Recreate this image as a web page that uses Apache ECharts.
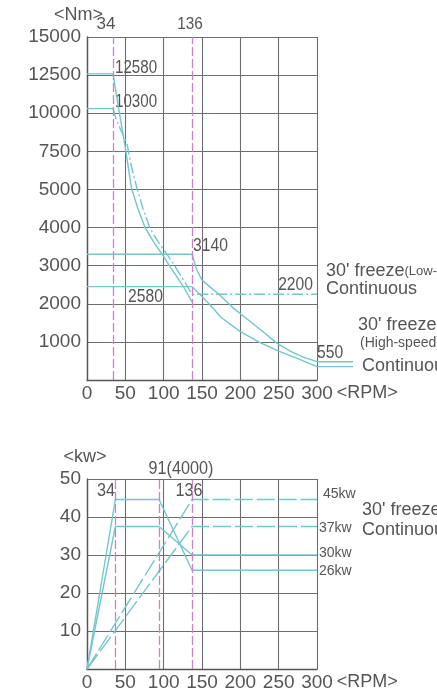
<!DOCTYPE html>
<html><head><meta charset="utf-8">
<script src="https://cdn.jsdelivr.net/npm/echarts@6/dist/echarts.min.js"></script>
<style>html,body{margin:0;padding:0;background:#fff}#c{width:437px;height:693px}</style>
</head><body><div id="c"></div>
<script>
// ---- data ----
const rpmTicks = [0, 50, 100, 150, 200, 250, 300];
const torqueTicks = [0, 1000, 2000, 3000, 4000, 5000, 7500, 10000, 12500, 15000];
const powerTicks = [0, 10, 20, 30, 40, 50];

// torque chart (rpm, Nm)
const lowSpeed30 = [[0,12580],[34,12580],[38,11300],[42,10100],[46,8900],[50,7750],[54,6400],[58,5100],[66,4520],[76,3990],[87,3620],[98,3300],[108,2980],[117,2720],[126,2440],[137,2050]];
const lowSpeedContFlat = [[0,10300],[34,10300]];
const lowSpeedCont = [[34,10300],[38,9600],[44,8900],[52,8050],[58,6500],[65,5100],[73,4500],[82,3990],[93,3620],[104,3307],[115,2974],[129,2520],[137,2250],[300,2250]];
const highSpeed30 = [[0,3300],[137,3300],[143,2900],[150,2620],[160,2450],[172,2250],[190,1900],[210,1580],[230,1260],[248,960],[265,760],[282,600],[300,480]];
const highSpeedCont = [[0,2450],[137,2450],[148,2230],[160,1980],[175,1640],[200,1270],[225,990],[250,760],[275,560],[300,350]];
const leaderEndRpm = 347;
const torqueMarks = [34, 137];

// power chart (rpm, kW)
const lowPower30 = [[0,0],[37,44.6],[94,44.6],[137,26],[300,26]];
const lowPowerCont = [[0,0],[37,37.5],[94,37.5],[137,30],[300,30]];
const highPower30 = [[0,0],[137,44.6],[300,44.6]];
const highPowerCont = [[0,0],[137,37.5],[300,37.5]];
const powerMarks = [37, 94, 137];

// ---- helpers ----
function tq(v){
  for (let i = 1; i < torqueTicks.length; i++) {
    if (v <= torqueTicks[i]) return (i-1) + (v - torqueTicks[i-1]) / (torqueTicks[i] - torqueTicks[i-1]);
  }
  return torqueTicks.length - 1;
}
const T = arr => arr.map(p => [p[0], tq(p[1])]);

const CYAN = '#74c6cb';
const MAG = '#c984c9';
const GRID = '#6e6e6e';
const TXT = '#555';
const FONT = 'Liberation Sans, Arial, sans-serif';

function xAx(gi){
  return {type:'value', gridIndex:gi, min:rpmTicks[0], max:rpmTicks[rpmTicks.length-1], interval:rpmTicks[1]-rpmTicks[0],
    axisLine:{show:true, lineStyle:{color:'#555', width:1.4}}, axisTick:{show:false},
    splitLine:{show:true, lineStyle:{color:GRID, width:1.1}},
    axisLabel:{color:TXT, fontSize:19, fontFamily:FONT, margin:4},
    name:'<RPM>', nameLocation:'end', nameGap:17,
    nameTextStyle:{color:TXT, fontSize:18, fontFamily:FONT, verticalAlign:'top', padding:[4,0,0,0]}};
}
function line(data, gi, dash){
  return {type:'line', xAxisIndex:gi, yAxisIndex:gi, data:data, symbol:'none',
    lineStyle:{color:CYAN, width:1.4, type: dash || 'solid'}, animation:false, silent:true};
}
function marks(vals){
  return {symbol:['none','none'], silent:true, animation:false, label:{show:false},
    lineStyle:{color:MAG, width:1.3, type:[9,3]}, data: vals.map(v => ({xAxis:v}))};
}

const s1 = line(T(lowSpeed30), 0);
s1.markLine = marks(torqueMarks);
const s5 = line(lowPower30, 1);
s5.markLine = marks(powerMarks);

function txt(x, y, text, size, align, sx){
  return {type:'text', x:x, y:y, silent:true, scaleX: sx || 1,
    style:{text:text, fill:TXT, font:(size||16)+'px '+FONT, align:align||'left', verticalAlign:'middle'}};
}
function rich(x, y, a, b, sa, sb){
  return {type:'text', x:x, y:y, silent:true,
    style:{text:'{a|'+a+'}{b|'+b+'}', fill:TXT, align:'left', verticalAlign:'middle',
      rich:{a:{fontSize:sa, fontFamily:FONT, fill:TXT}, b:{fontSize:sb, fontFamily:FONT, fill:TXT}}}};
}

const chart = echarts.init(document.getElementById('c'), null, {renderer:'canvas'});
chart.setOption({
  backgroundColor:'#fff',
  animation:false,
  grid:[{left:87, top:37, width:230, height:343}, {left:87, top:479, width:230, height:190}],
  xAxis:[xAx(0), xAx(1)],
  yAxis:[
    {type:'value', gridIndex:0, min:0, max:torqueTicks.length-1, interval:1,
      axisLine:{show:true, lineStyle:{color:'#555', width:1.4}}, axisTick:{show:false},
      splitLine:{show:true, lineStyle:{color:GRID, width:1.1}},
      axisLabel:{color:TXT, fontSize:19, fontFamily:FONT, margin:6,
        formatter: v => v === 0 ? '' : String(torqueTicks[Math.round(v)])}},
    {type:'value', gridIndex:1, min:powerTicks[0], max:powerTicks[powerTicks.length-1], interval:powerTicks[1]-powerTicks[0],
      axisLine:{show:true, lineStyle:{color:'#555', width:1.4}}, axisTick:{show:false},
      splitLine:{show:true, lineStyle:{color:GRID, width:1.1}},
      axisLabel:{color:TXT, fontSize:19, fontFamily:FONT, margin:6, formatter: v => v === 0 ? '' : String(v)}}
  ],
  series:[
    s1,
    line(T(lowSpeedContFlat), 0),
    line(T(lowSpeedCont), 0, [11,3,2,3]),
    line(T(highSpeed30), 0),
    line(T(highSpeedCont), 0),
    s5,
    line(lowPowerCont, 1),
    line(highPower30, 1, [18,4]),
    line(highPowerCont, 1, [18,4])
  ]
});

// leader lines from the curve ends at 300 rpm out to the right-hand captions
const leaders = [highSpeed30[highSpeed30.length-1], highSpeedCont[highSpeedCont.length-1]].map(p => {
  const a = chart.convertToPixel({gridIndex:0}, [p[0], tq(p[1])]);
  const b = chart.convertToPixel({gridIndex:0}, [leaderEndRpm, tq(p[1])]);
  return {type:'line', silent:true, shape:{x1:a[0], y1:a[1], x2:b[0], y2:b[1]}, style:{stroke:CYAN, lineWidth:1.4}};
});

chart.setOption({graphic: leaders.concat([
  txt(54, 15, '<Nm>', 18),
  txt(106, 24, '34', 17, 'center'),
  txt(190, 24, '136', 17, 'center', 0.9),
  txt(115, 68, '12580', 18, 'left', 0.84),
  txt(115, 102, '10300', 18, 'left', 0.84),
  txt(193, 246, '3140', 18, 'left', 0.87),
  txt(128, 297, '2580', 18, 'left', 0.87),
  txt(313, 285, '2200', 18, 'right', 0.87),
  txt(317, 353, '550', 18, 'left', 0.87),
  rich(326, 271, "30' freeze", '(Low-speed)', 18, 13),
  txt(326, 289, 'Continuous', 18),
  txt(358, 325, "30' freeze", 18),
  txt(360, 343, '(High-speed)', 14),
  txt(362, 366, 'Continuous', 18),
  txt(85, 457, '<kw>', 18, 'center'),
  txt(181, 469, '91(4000)', 18, 'center', 0.9),
  txt(106, 491, '34', 18, 'center', 0.9),
  txt(189, 491, '136', 18, 'center', 0.9),
  txt(323, 494, '45kw', 14, 'left'),
  txt(319, 528, '37kw', 14, 'left'),
  txt(319, 553, '30kw', 14, 'left'),
  txt(319, 571, '26kw', 14, 'left'),
  txt(362, 510, "30' freeze", 18),
  txt(362, 530, 'Continuous', 18)
])});
</script></body></html>
